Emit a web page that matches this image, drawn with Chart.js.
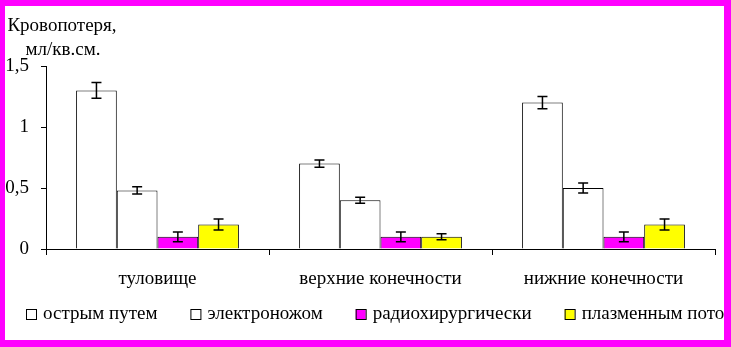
<!DOCTYPE html>
<html>
<head>
<meta charset="utf-8">
<script src="https://cdn.jsdelivr.net/npm/chart.js@4/dist/chart.umd.min.js"></script>
<style>
  html, body { margin: 0; padding: 0; background: #fff; }
  #box { width: 731px; height: 347px; position: relative; }
</style>
</head>
<body>
<div id="box"><canvas id="grafico"></canvas></div>
<script>
// Данные диаграммы
const categorias = ['туловище', 'верхние конечности', 'нижние конечности'];
const metodos = ['острым путем', 'электроножом', 'радиохирургически', 'плазменным потоком'];

const ostrymPutem = [1.3, 0.7, 1.2];
const elektronozhom = [0.48, 0.4, 0.5];
const radiohirurg = [0.1, 0.1, 0.1];
const plazmennym = [0.2, 0.1, 0.2];

const errOstrym = [0.065, 0.03, 0.05];
const errElektro = [0.03, 0.025, 0.04];
const errRadio = [0.04, 0.04, 0.04];
const errPlazma = [0.045, 0.025, 0.045];

const yTicks = [0, 0.5, 1, 1.5];

const cores = ['#FFFFFF', '#FFFFFF', '#FF00FF', '#FFFF00'];
const fonte = 'Liberation Serif';
const tamFonte = 19;

const valores = [ostrymPutem, elektronozhom, radiohirurg, plazmennym];
const erros = [errOstrym, errElektro, errRadio, errPlazma];

// barras de erro
const barrasErro = {
    id: 'barrasErro',
    afterDatasetsDraw(chart) {
        const ctx = chart.ctx;
        const y = chart.scales.y;
        ctx.save();
        ctx.strokeStyle = '#000';
        ctx.lineWidth = 1.5;
        chart.data.datasets.forEach((ds, i) => {
            const meta = chart.getDatasetMeta(i);
            meta.data.forEach((bar, j) => {
                const v = ds.data[j];
                const e = ds.erro[j];
                const yTop = y.getPixelForValue(v + e);
                const yBot = y.getPixelForValue(v - e);
                ctx.beginPath();
                ctx.moveTo(bar.x, yTop); ctx.lineTo(bar.x, yBot);
                ctx.moveTo(bar.x - 5, yTop); ctx.lineTo(bar.x + 5, yTop);
                ctx.moveTo(bar.x - 5, yBot); ctx.lineTo(bar.x + 5, yBot);
                ctx.stroke();
            });
        });
        ctx.restore();
    }
};

// título, legenda e moldura
const extras = {
    id: 'extras',
    afterDraw(chart) {
        const ctx = chart.ctx;
        ctx.save();
        ctx.fillStyle = '#000';
        ctx.font = tamFonte + 'px "' + fonte + '", serif';
        ctx.textAlign = 'center';
        ctx.textBaseline = 'middle';
        ctx.fillText('Кровопотеря,', 62, 26);
        ctx.fillText('мл/кв.см.', 63, 50);

        // legenda
        ctx.textAlign = 'left';
        let x = 26;
        const yLeg = 314;
        chart.data.datasets.forEach((ds) => {
            ctx.fillStyle = ds.backgroundColor;
            ctx.fillRect(x, yLeg - 5, 10, 10);
            ctx.strokeStyle = '#000';
            ctx.lineWidth = 1;
            ctx.strokeRect(x + 0.5, yLeg - 4.5, 10, 10);
            ctx.fillStyle = '#000';
            ctx.fillText(ds.label, x + 17, yLeg);
            x += 17 + ctx.measureText(ds.label).width + 33;
        });

        // moldura
        ctx.fillStyle = '#FF00FF';
        ctx.fillRect(0, 0, 731, 6);
        ctx.fillRect(0, 0, 5, 347);
        ctx.fillRect(724, 0, 7, 347);
        ctx.fillRect(0, 340, 731, 7);
        ctx.restore();
    }
};

const data = {
    labels: categorias,
    datasets: metodos.map((m, i) => ({
        label: m,
        data: valores[i],
        erro: erros[i],
        backgroundColor: cores[i],
        borderColor: '#000',
        borderWidth: 1,
        barPercentage: 1,
        categoryPercentage: 0.73
    }))
};

const config = {
    type: 'bar',
    data: data,
    options: {
        responsive: true,
        maintainAspectRatio: false,
        animation: false,
        layout: {
            padding: { left: 0, top: 66, right: 16, bottom: 0 }
        },
        plugins: {
            legend: { display: false },
            tooltip: { enabled: false }
        },
        scales: {
            x: {
                afterFit: (s) => { s.height = 98; },
                grid: {
                    offset: true,
                    drawOnChartArea: false,
                    drawTicks: true,
                    tickLength: 6,
                    color: '#000'
                },
                border: { color: '#000', width: 1 },
                ticks: {
                    color: '#000',
                    padding: 13,
                    font: { family: fonte, size: tamFonte }
                }
            },
            y: {
                min: 0,
                max: 1.5,
                afterFit: (s) => { s.width = 46; },
                afterBuildTicks: (s) => { s.ticks = yTicks.map(v => ({ value: v })); },
                grid: {
                    drawOnChartArea: false,
                    drawTicks: true,
                    tickLength: 5,
                    color: '#000'
                },
                border: { color: '#000', width: 1 },
                ticks: {
                    color: '#000',
                    padding: 12,
                    font: { family: fonte, size: tamFonte },
                    callback: (v) => String(v).replace('.', ',')
                }
            }
        }
    },
    plugins: [barrasErro, extras]
};

const grafico = new Chart(document.getElementById('grafico'), config);
</script>
</body>
</html>
